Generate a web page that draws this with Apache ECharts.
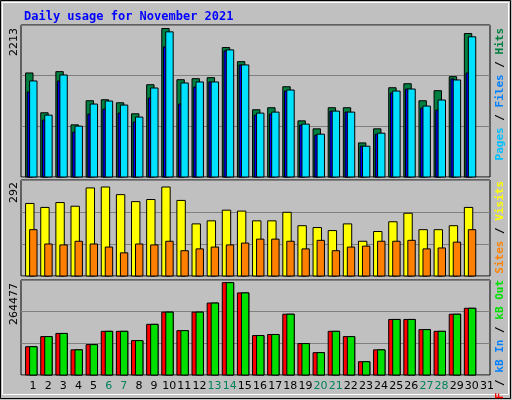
<!DOCTYPE html>
<html><head><meta charset="utf-8">
<script src="https://cdn.jsdelivr.net/npm/echarts@6/dist/echarts.min.js"></script>
<style>html,body{margin:0;padding:0;background:#fff}#c{width:512px;height:400px}</style>
</head><body><div id="c"></div>
<script>
// days of the month
const days = ['1','2','3','4','5','6','7','8','9','10','11','12','13','14','15','16','17','18','19','20','21','22','23','24','25','26','27','28','29','30','31'];
const weekend = ['6','7','13','14','20','21','27','28'];

// top panel
const hits  = [1550,957,1570,777,1136,1151,1106,942,1375,2213,1450,1465,1480,1929,1719,1002,1032,1345,837,718,1032,1032,508,718,1330,1390,1136,1286,1495,2138,0];
const files = [1431,922,1520,758,1087,1132,1072,893,1326,2163,1401,1416,1416,1894,1670,952,967,1296,788,638,982,967,459,653,1281,1311,1057,1147,1446,2089,0];
const pages = [1266,848,1431,668,937,1012,952,818,1177,1939,1087,1341,1416,1879,1670,922,937,1281,773,623,982,967,459,638,1251,1311,1027,997,1461,1550,0];
// middle panel
const visits = [238,225,241,229,289,292,267,244,251,292,248,171,181,216,213,181,181,209,165,159,149,171,114,146,178,206,152,152,165,225,0];
const sites  = [152,105,102,114,105,95,76,105,102,114,83,89,95,102,108,121,121,114,89,117,83,95,98,114,114,117,89,92,111,152,0];
// bottom panel (kB)
const kbF  = [81000,110000,119000,72000,87000,125000,125000,98500,145000,180000,127000,180000,206000,264477,235000,113000,116000,174000,90000,64000,125000,110000,38000,72000,159000,159000,130000,125000,174000,191000,0];
const kbIn = kbF.slice();

const maxLabels = ['2213','292','264477'];

const chart = echarts.init(document.getElementById('c'));

function bars(data, gi, dx, w, color) {
  return {
    type: 'custom', xAxisIndex: gi, yAxisIndex: gi,
    data: data.map((v, i) => [i, v]),
    renderItem: function (params, api) {
      const v = api.value(1);
      if (!v) return null;
      const top = api.coord([api.value(0), v]);
      const base = api.coord([api.value(0), 0]);
      const band = api.size([1, 0])[0];
      const x = top[0] - band / 2 + dx * band / 15.1;
      return {
        type: 'rect',
        shape: { x: x, y: top[1], width: w, height: base[1] - top[1] },
        style: { fill: color, stroke: '#000', lineWidth: 1 }
      };
    }
  };
}

const grids = [
  { left: 21, right: 22, top: 25, height: 152 },
  { left: 21, right: 22, top: 180, height: 96 },
  { left: 21, right: 22, top: 280, height: 95 }
];
const yMax = [2265, 315, 272001];
const yInt = [755, 105, 90667];

const xAxes = grids.map((g, i) => ({
  type: 'category', gridIndex: i, data: days,
  axisLine: { show: false }, axisTick: { show: false },
  axisLabel: i === 2 ? {
    show: true, interval: 0, fontSize: 11, fontFamily: 'DejaVu Sans', margin: 6,
    padding: [0, 0, 0, 9],
    color: (v) => weekend.includes(v) ? '#00805c' : '#000'
  } : { show: false }
}));
const yAxes = grids.map((g, i) => ({
  type: 'value', gridIndex: i, min: 0, max: yMax[i], interval: yInt[i],
  axisLabel: { show: false }, axisLine: { show: false }, axisTick: { show: false },
  splitLine: { lineStyle: { color: '#808080', width: 1 } }
}));

function vtext(x, y, rich, str) {
  return { type: 'text', x: x, y: y, rotation: Math.PI / 2,
    style: { text: str, rich: rich, align: 'right', verticalAlign: 'middle',
      fontFamily: 'DejaVu Sans Mono', fontWeight: 'bold', fontSize: 11 } };
}
const rich = {
  pg: { fill: '#00c0ff', fontFamily: 'DejaVu Sans Mono', fontWeight: 'bold', fontSize: 11 },
  fl: { fill: '#0080ff', fontFamily: 'DejaVu Sans Mono', fontWeight: 'bold', fontSize: 11 },
  ht: { fill: '#008040', fontFamily: 'DejaVu Sans Mono', fontWeight: 'bold', fontSize: 11 },
  st: { fill: '#ff8000', fontFamily: 'DejaVu Sans Mono', fontWeight: 'bold', fontSize: 11 },
  vs: { fill: '#ffff00', fontFamily: 'DejaVu Sans Mono', fontWeight: 'bold', fontSize: 11 },
  kf: { fill: '#ff0000', fontFamily: 'DejaVu Sans Mono', fontWeight: 'bold', fontSize: 11 },
  ki: { fill: '#0080ff', fontFamily: 'DejaVu Sans Mono', fontWeight: 'bold', fontSize: 11 },
  ko: { fill: '#00e000', fontFamily: 'DejaVu Sans Mono', fontWeight: 'bold', fontSize: 11 },
  sl: { fill: '#000', fontFamily: 'DejaVu Sans Mono', fontWeight: 'bold', fontSize: 11 }
};

chart.setOption({
  animation: false,
  backgroundColor: '#c0c0c0',
  title: { text: 'Daily usage for November 2021', left: 19, top: 6,
    textStyle: { color: '#0000ff', fontFamily: 'DejaVu Sans Mono', fontWeight: 'bold', fontSize: 12 } },
  grid: grids.map(g => Object.assign({ show: true, backgroundColor: '#c0c0c0', borderColor: '#000', borderWidth: 1 }, g)),
  xAxis: xAxes,
  yAxis: yAxes,
  series: [
    bars(hits, 0, 4.6, 7.4, '#008040'),
    bars(pages, 0, 6.3, 3, '#0000ff'),
    bars(files, 0, 8.6, 7.4, '#00e0ff'),
    bars(visits, 1, 4.6, 8.4, '#ffff00'),
    bars(sites, 1, 8.6, 7.4, '#ff8000'),
    bars(kbF, 2, 4.6, 11.4, '#ff0000'),
    bars(kbIn, 2, 8.6, 7.4, '#00e000')
  ],
  graphic: [
    { type: 'rect', shape: { x: 0.5, y: 0.5, width: 510, height: 398 }, style: { fill: 'none', stroke: '#000', lineWidth: 1 } },
    { type: 'rect', shape: { x: 2.5, y: 2.5, width: 506, height: 392 }, style: { fill: 'none', stroke: '#fff', lineWidth: 1 } },
    { type: 'text', x: 14, y: 28, rotation: Math.PI / 2, style: { text: maxLabels[0], align: 'right', verticalAlign: 'middle', fontFamily: 'DejaVu Sans', fontSize: 11, fill: '#000' } },
    { type: 'text', x: 14, y: 182, rotation: Math.PI / 2, style: { text: maxLabels[1], align: 'right', verticalAlign: 'middle', fontFamily: 'DejaVu Sans', fontSize: 11, fill: '#000' } },
    { type: 'text', x: 14, y: 283, rotation: Math.PI / 2, style: { text: maxLabels[2], align: 'right', verticalAlign: 'middle', fontFamily: 'DejaVu Sans', fontSize: 11, fill: '#000' } },
    vtext(500, 28, rich, '{pg|Pages}{sl| / }{fl|Files}{sl| / }{ht|Hits}'),
    vtext(500, 181, rich, '{st|Sites}{sl| / }{vs|Visits}'),
    vtext(500, 280, rich, '{kf|kB F}{sl| / }{ki|kB In}{sl| / }{ko|kB Out}')
  ]
});
</script>
</body></html>
